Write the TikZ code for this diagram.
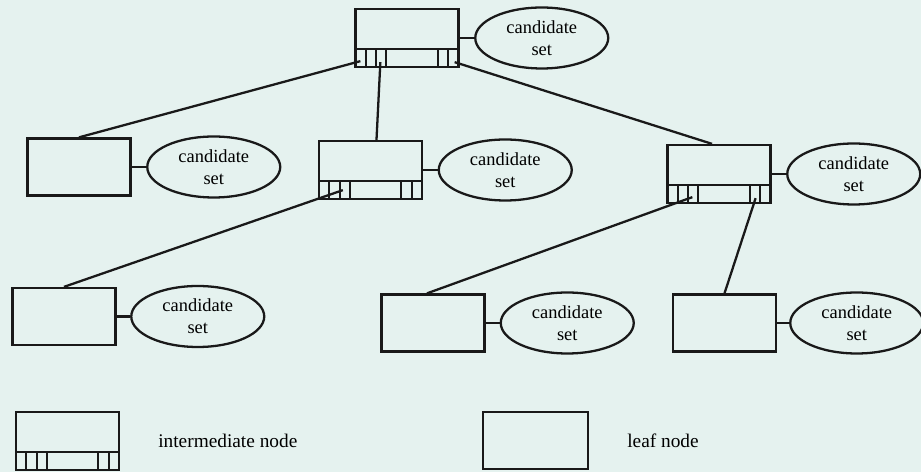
\documentclass[tikz,border=0pt]{standalone}
\usepackage{fontspec}
\setmainfont{Liberation Serif}
\usetikzlibrary{shapes.geometric, positioning, calc}
\definecolor{paper}{RGB}{229,242,239}
\definecolor{ink}{RGB}{25,25,25}

\tikzset{
    leaf/.style={draw=ink, line width=1.3pt, minimum width=2.06cm, minimum height=1.14cm},
    inter/.style={leaf, minimum height=1.16cm, path picture={
        \draw[ink, line width=1.3pt] ([yshift=0.36cm]path picture bounding box.south west) -- ([yshift=0.36cm]path picture bounding box.south east);
        \foreach \k in {1,2,3}
            \draw[ink, line width=1.2pt] ([xshift=\k*0.206cm]path picture bounding box.south west) -- ++(0,0.36cm);
        \foreach \k in {1,2}
            \draw[ink, line width=1.2pt] ([xshift=-\k*0.206cm]path picture bounding box.south east) -- ++(0,0.36cm);
    }},
    cset/.style={draw=ink, line width=1.3pt, ellipse, minimum width=2.66cm, minimum height=1.22cm, inner sep=0pt, align=center, font=\fontsize{10.5}{12.5}\selectfont},
    link/.style={draw=ink, line width=1.3pt},
    keytext/.style={font=\fontsize{11}{13}\selectfont}
}

\begin{document}
\begin{tikzpicture}[x=0.02cm, y=-0.02cm]
    % Paper and fixed size
    \fill[paper] (0,0) rectangle (921,472);
    \useasboundingbox (0,0) rectangle (921,472);

    % Draw the nodes of the tree
    \node[inter] (root) at (407,38) {};
    \node[leaf] (leafA) at (79,167) {};
    \node[inter] (midI) at (370.5,170) {};
    \node[inter] (rightI) at (719,174) {};
    \node[leaf] (leafB) at (64,316.5) {};
    \node[leaf] (leafC) at (433,323) {};
    \node[leaf] (leafD) at (724.5,323) {};

    % Candidate sets beside each node
    \node[cset, right=0.29cm of root] (rootSet) {candidate\\set};
    \node[cset, right=0.29cm of leafA] (leafASet) {candidate\\set};
    \node[cset, right=0.29cm of midI] (midSet) {candidate\\set};
    \node[cset, right=0.29cm of rightI] (rightSet) {candidate\\set};
    \node[cset, right=0.27cm of leafB] (leafBSet) {candidate\\set};
    \node[cset, right=0.28cm of leafC] (leafCSet) {candidate\\set};
    \node[cset, right=0.24cm of leafD] (leafDSet) {candidate\\set};
    \foreach \n/\s in {root/rootSet, leafA/leafASet, midI/midSet, rightI/rightSet, leafB/leafBSet, leafC/leafCSet, leafD/leafDSet}
        \draw[link] (\n) -- (\s);

    % Slot points used by the children
    \coordinate (rootA) at ($(root.south west)+(0.12cm,0.14cm)$);
    \coordinate (rootC) at ($(root.south west)+(0.52cm,0.12cm)$);
    \coordinate (rootE) at ($(root.south east)+(-0.1cm,0.12cm)$);
    \coordinate (midC) at ($(midI.south west)+(0.5cm,0.2cm)$);
    \coordinate (rightC) at ($(rightI.south west)+(0.52cm,0.14cm)$);
    \coordinate (rightD) at ($(rightI.south east)+(-0.32cm,0.12cm)$);

    % Draw the tree edges
    \draw[link] (rootA) -- (leafA.north);
    \draw[link] (rootC) -- ([xshift=0.12cm]midI.north);
    \draw[link] (rootE) -- ([xshift=-0.14cm]rightI.north);
    \draw[link] (midC) -- (leafB.north);
    \draw[link] (rightC) -- ([xshift=-0.12cm]leafC.north);
    \draw[link] (rightD) -- (leafD.north);

    % Legend
    \node[inter] (keyI) at (67.5,441) {};
    \node[keytext, right=0.64cm of keyI] (keyIText) {intermediate node};
    \node[leaf, minimum width=2.1cm] (keyL) at (535.5,440.5) {};
    \node[keytext, right=0.64cm of keyL] (keyLText) {leaf node};
\end{tikzpicture}
\end{document}
